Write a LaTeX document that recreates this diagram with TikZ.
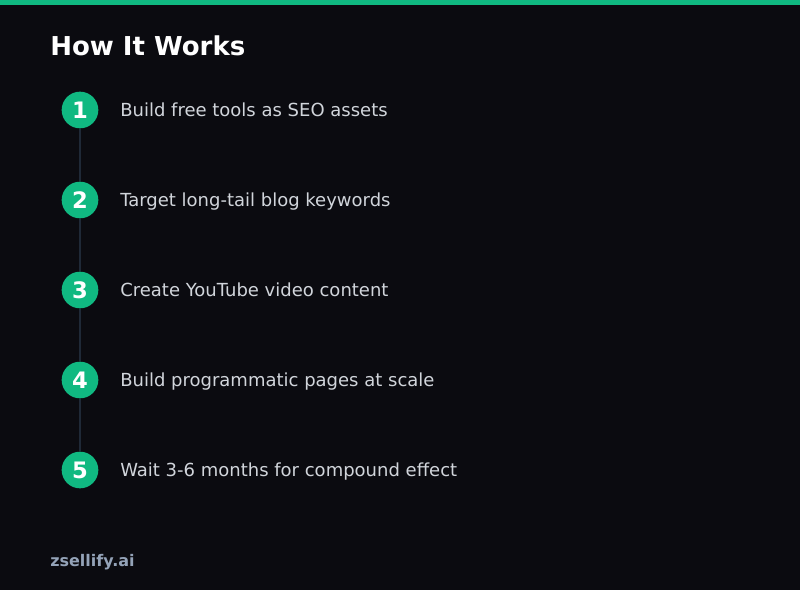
\documentclass[tikz,border=0pt]{standalone}
\usepackage{fontspec}
\setmainfont{DejaVu Sans}
\definecolor{bg}{HTML}{0B0B10}
\definecolor{accent}{HTML}{10B981}
\definecolor{linec}{HTML}{1F2937}
\definecolor{steptxt}{HTML}{D1D5DB}
\definecolor{foot}{HTML}{94A3B8}
\begin{document}
\begin{tikzpicture}[x=0.75pt,y=-0.75pt,
  numcirc/.style={circle,fill=accent,minimum size=27.5pt,inner sep=0pt,text=white,font=\fontsize{17}{17}\selectfont\bfseries},
  steplabel/.style={anchor=base west,inner sep=0pt,text=steptxt,font=\fontsize{13.5}{13.5}\selectfont},
  conn/.style={draw=linec,line width=1.5pt}]
\fill[bg] (0,0) rectangle (800,590);
\useasboundingbox (0,0) rectangle (800,590);
\fill[accent] (0,0) rectangle (800,5);
\node[anchor=base west,inner sep=0pt,text=white,font=\fontsize{19.5}{19.5}\selectfont\bfseries] (title) at (50,55) {How It Works};
\foreach \i/\t in {1/Build free tools as SEO assets,2/Target long-tail blog keywords,3/Create YouTube video content,4/Build programmatic pages at scale,5/Wait 3-6 months for compound effect}{
  \node[numcirc] (c\i) at (80,{20+90*\i}) {\i};
  \node[steplabel] (s\i) at (120,{26.5+90*\i}) {\t};
}
\foreach \a/\b in {1/2,2/3,3/4,4/5}{
  \draw[conn] (c\a.south) -- (c\b.north);
}
\node[anchor=base west,inner sep=0pt,text=foot,font=\fontsize{12}{12}\selectfont\bfseries] (footer) at (50,566) {zsellify.ai};
\end{tikzpicture}
\end{document}
